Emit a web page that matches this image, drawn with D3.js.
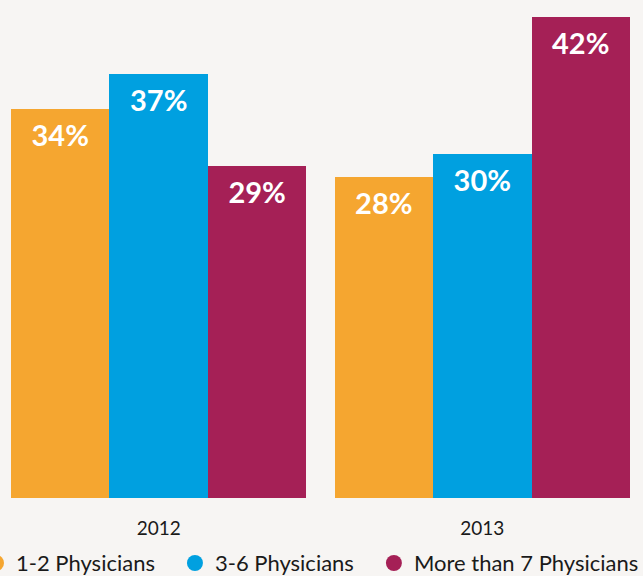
<!DOCTYPE html>
<html>
<head>
<meta charset="utf-8">
<script src="https://cdn.jsdelivr.net/npm/d3@7"></script>
<style>
  body { margin: 0; background: #f7f5f3; }
  svg { display: block; }
</style>
</head>
<body>
<svg width="643" height="576"></svg>
<script>
// data
var years = ["2012", "2013"];
var series = ["1-2 Physicians", "3-6 Physicians", "More than 7 Physicians"];
var small = [34, 28];   // 1-2 Physicians
var medium = [37, 30];  // 3-6 Physicians
var large = [29, 42];   // More than 7 Physicians
var colors = ["#f5a630", "#00a0e0", "#a52056"];

var seriesValues = [small, medium, large];

var svg = d3.select("svg");

// scales
var x0 = d3.scaleBand().domain(years).range([11, 630]).paddingInner(0.087).paddingOuter(0);
var x1 = d3.scaleBand().domain(series).range([0, x0.bandwidth()]).padding(0);
var y = d3.scaleLinear().domain([0, 42]).range([498, 17]);
var z = d3.scaleOrdinal().domain(series).range(colors);

var rows = years.map(function(yr, i) {
    return { year: yr, items: series.map(function(s, j) { return { key: s, value: seriesValues[j][i] }; }) };
});

var groups = svg.append("g")
    .selectAll("g")
    .data(rows)
    .enter().append("g")
    .attr("transform", function(d) { return "translate(" + x0(d.year) + ",0)"; });

groups.selectAll("rect")
    .data(function(d) { return d.items; })
    .enter().append("rect")
    .attr("x", function(d) { return x1(d.key); })
    .attr("y", function(d) { return y(d.value); })
    .attr("width", x1.bandwidth())
    .attr("height", function(d) { return y(0) - y(d.value); })
    .attr("fill", function(d) { return z(d.key); })
    .attr("shape-rendering", "crispEdges");

// value labels
groups.selectAll("text.val")
    .data(function(d) { return d.items; })
    .enter().append("text")
    .attr("class", "val")
    .attr("x", function(d) { return x1(d.key) + x1.bandwidth() / 2; })
    .attr("y", function(d) { return y(d.value) + 37; })
    .attr("text-anchor", "middle")
    .attr("font-family", "Lato, sans-serif")
    .attr("font-weight", "bold")
    .attr("font-size", 29)
    .attr("fill", "#fff")
    .text(function(d) { return d.value + "%"; });

// x axis
var xAxis = svg.append("g")
    .attr("transform", "translate(0," + y(0) + ")")
    .call(d3.axisBottom(x0).tickSize(0));
xAxis.select(".domain").remove();
xAxis.selectAll("text")
    .attr("y", 37)
    .attr("dy", 0)
    .attr("font-family", "Lato, sans-serif")
    .attr("font-size", 19)
    .attr("fill", "#1a1a1a");

// legend
var legend = svg.append("g");
var cx = -4;
series.forEach(function(s) {
    legend.append("circle")
        .attr("cx", cx)
        .attr("cy", 563)
        .attr("r", 8)
        .attr("fill", z(s));
    var t = legend.append("text")
        .attr("x", cx + 20)
        .attr("y", 571)
        .attr("font-family", "Lato, sans-serif")
        .attr("font-size", 22)
        .attr("fill", "#1a1a1a")
        .text(s);
    cx = cx + 20 + t.node().getComputedTextLength() + 40;
});
</script>
</body>
</html>
